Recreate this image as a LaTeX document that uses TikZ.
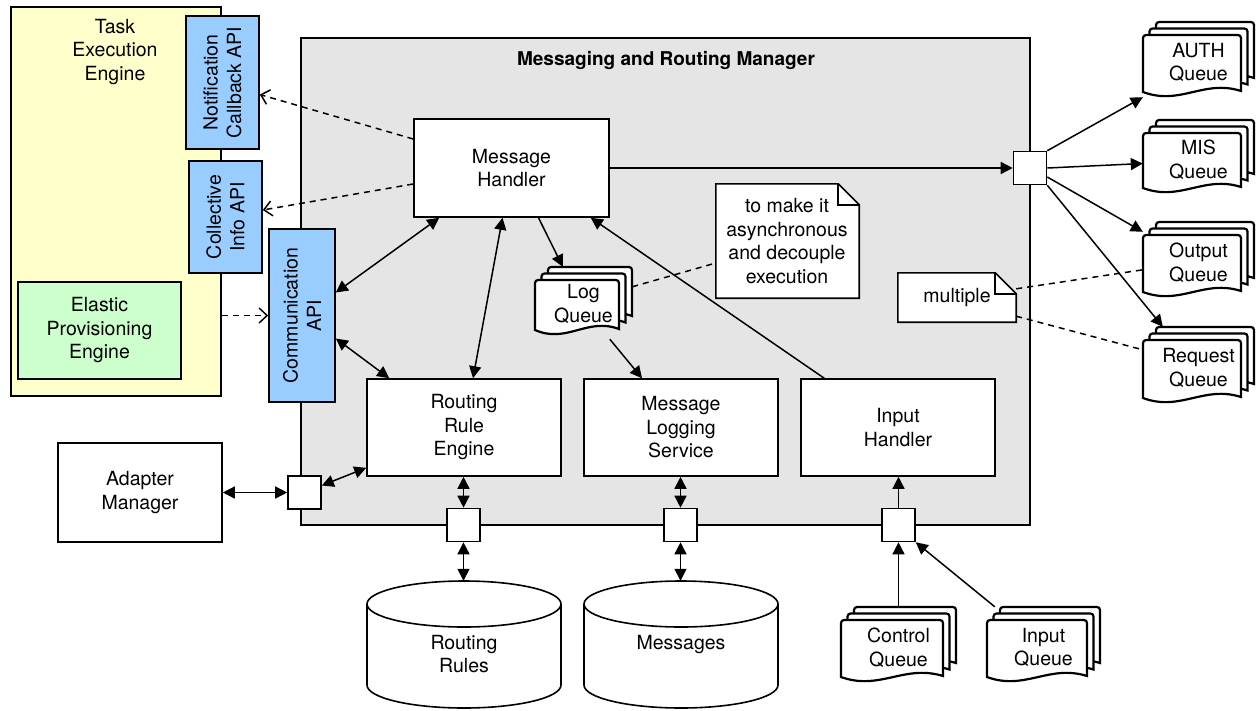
\documentclass[tikz,border=0pt]{standalone}
\usepackage{fontspec}
\setmainfont{TeX Gyre Heros}
\usetikzlibrary{arrows.meta,calc}
\definecolor{mgray}{RGB}{229,229,229}
\definecolor{tyellow}{RGB}{255,255,204}
\definecolor{egreen}{RGB}{204,255,204}
\definecolor{apiblue}{RGB}{153,204,255}

\tikzset{
  every node/.style={font=\fontsize{19.5}{23.5}\selectfont, inner sep=0pt, align=center},
  box/.style={draw, line width=1.6pt, fill=white, rectangle},
  port/.style={box, minimum width=33pt, minimum height=33pt},
  engine/.style={box, minimum width=194pt, minimum height=97pt},
  docline/.style={draw, line width=2.2pt, fill=white},
  conn/.style={line width=1.5pt},
  onehead/.style={conn, -{Triangle[length=12pt,width=12pt]}},
  twohead/.style={conn, {Triangle[length=12pt,width=12pt]}-{Triangle[length=12pt,width=12pt]}},
  dashplain/.style={line width=1.5pt, dash pattern=on 6pt off 5pt},
  dashhead/.style={dashplain, -{Straight Barb[length=8pt,width=15pt]}},
}

% one sheet of a document stack: x, y (top left), width, height
\newcommand\doclayer[4]{%
  \draw[docline] ({#1},{#2+#4-5}) [rounded corners=3pt] -- ({#1},{#2}) -- ({#1+#3},{#2})
    [sharp corners] -- ({#1+#3},{#2+#4-6})
    .. controls ({#1+0.62*#3},{#2+#4-18}) and ({#1+0.38*#3},{#2+#4+9}) .. ({#1},{#2+#4-5}) -- cycle;}

% a stack of three documents: name, x, y (front sheet top left), width, height, text
\newcommand\docstack[6]{%
  \node[minimum width={#4pt+13pt}, minimum height={#5pt+13pt}] (#1) at ({#2+(#4+13)/2},{#3+(#5-13)/2}) {};
  \doclayer{#2+13}{#3-13}{#4}{#5}
  \doclayer{#2+6.5}{#3-6.5}{#4}{#5}
  \doclayer{#2}{#3}{#4}{#5}
  \node (#1-t) at ($(#1)+(0,3)$) {#6};}

% a note with a folded corner: name, x1, y1, x2, y2
\newcommand\notebox[5]{%
  \node[minimum width={#4pt-#2pt}, minimum height={#5pt-#3pt}] (#1) at ({(#2+#4)/2},{(#3+#5)/2}) {};
  \draw[box] (#1.south west) -- (#1.north west) -- ($(#1.north east)+(-21,0)$)
    -- ($(#1.north east)+(0,21)$) -- (#1.south east) -- cycle;
  \draw[line width=1.6pt] ($(#1.north east)+(-21,0)$) -- ($(#1.north east)+(-21,21)$) -- ($(#1.north east)+(0,21)$);}

% a database cylinder: name, x1, x2, top, bottom, text
\newcommand\dbcyl[6]{%
  \node[minimum width={#3pt-#2pt}, minimum height={#5pt-#4pt}] (#1) at ({(#2+#3)/2},{(#4+#5)/2}) {};
  \draw[box] ({#2},{#4+23}) -- ({#2},{#5-23})
    arc[start angle=180, end angle=0, x radius={(#3-#2)/2}, y radius=23]
    -- ({#3},{#4+23})
    arc[start angle=0, end angle=-180, x radius={(#3-#2)/2}, y radius=23] -- cycle;
  \draw[line width=1.6pt] ({#2},{#4+23}) arc[start angle=180, end angle=0, x radius={(#3-#2)/2}, y radius=23];
  \node[anchor=north] (#1-t) at ({(#2+#3)/2},{#4+54}) {#6};}

\begin{document}
\begin{tikzpicture}[x=1pt,y=-1pt]
\useasboundingbox (0,0) rectangle (1257,710);

% task execution engine
\node[box, fill=tyellow, minimum width=210pt, minimum height=389pt] (te) at (116,201.5) {};
\node (te-t) at (115,52) {Task\\Execution\\Engine};
\node[box, fill=egreen, minimum width=163pt, minimum height=97pt] (epe) at (99.5,330.5) {Elastic\\Provisioning\\Engine};

% messaging and routing manager
\node[box, fill=mgray, minimum width=729pt, minimum height=487pt] (mrm) at (665.5,281.5) {};
\node[font=\bfseries\fontsize{19}{22}\selectfont] (mrm-t) at (666,60) {Messaging and Routing Manager};

% API boxes
\node[box, fill=apiblue, minimum width=73pt, minimum height=133pt] (ncb) at (222.5,82.5) {};
\node[rotate=90] (ncb-t) at (ncb) {Notification\\Callback API};
\node[box, fill=apiblue, minimum width=73pt, minimum height=112pt] (cia) at (225.5,217) {};
\node[rotate=90] (cia-t) at (cia) {Collective\\Info API};
\node[box, fill=apiblue, minimum width=66pt, minimum height=173pt] (comm) at (302,315.5) {};
\node[rotate=90] (comm-t) at (comm) {Communication\\API};

% components
\node[box, minimum width=195pt, minimum height=98pt] (mh) at (511.5,168) {Message\\Handler};
\node[engine] (rre) at (464,427.5) {Routing\\Rule\\Engine};
\node[engine] (mls) at (681,427.5) {Message\\Logging\\Service};
\node[engine] (ih) at (898,427.5) {Input\\Handler};
\node[box, minimum width=164pt, minimum height=99pt] (am) at (140,492.5) {Adapter\\Manager};

% ports
\node[port] (ap) at (304.5,492.5) {};
\node[port] (rp) at (463.5,525) {};
\node[port] (mp) at (680.5,525) {};
\node[port] (ip) at (898.5,525) {};
\node[port] (op) at (1030,168) {};

% queues
\docstack{logq}{535}{280}{84}{55}{Log\\Queue}
\docstack{auth}{1143}{35}{98}{62}{AUTH\\Queue}
\docstack{mis}{1143}{133}{98}{60}{MIS\\Queue}
\docstack{outq}{1143}{235}{98}{62}{Output\\Queue}
\docstack{req}{1143}{340}{98}{63}{Request\\Queue}
\docstack{ctrlq}{841}{620}{102}{62}{Control\\Queue}
\docstack{inq}{987}{620}{100}{62}{Input\\Queue}

% notes
\notebox{async}{716}{184}{859}{298}
\node (async-t) at (787,241) {to make it\\asynchronous\\and decouple\\execution};
\notebox{multi}{898}{273}{1016}{322}
\node (multi-t) at (957,298) {multiple};

% databases
\dbcyl{rrdb}{367}{561}{581}{708}{Routing\\Rules}
\dbcyl{msgdb}{584}{778}{581}{708}{Messages}

% dashed links
\draw[dashhead] ($(mh.west)+(0,-29)$) -- ($(ncb.east)+(0,12)$);
\draw[dashhead] ($(mh.west)+(0,16)$) -- ($(cia.east)+(0,-7)$);
\draw[dashhead] (te.east |- comm.west) -- (comm.west);
\draw[dashplain] ($(logq.north east)+(0,20)$) -- ($(async.west)+(0,22)$);
\draw[dashplain] ($(multi.north east)+(0,16)$) -- ($(outq.north west)+(0,48)$);
\draw[dashplain] ($(multi.south east)+(0,-6)$) -- ($(req.north west)+(0,23)$);

% message handler links
\draw[twohead] ($(mh.south west)+(26,0)$) -- ($(comm.east)+(0,-23)$);
\draw[twohead] ($(mh.south)+(-9,0)$) -- ($(rre.north)+(9,0)$);
\draw[onehead] ($(mh.south)+(27,0)$) -- ($(logq.north west)+(28,0)$);
\draw[onehead] ($(ih.north west)+(24,0)$) -- ($(mh.south east)+(-19,0)$);
\draw[twohead] ($(comm.east)+(0,23)$) -- ($(rre.north west)+(23,0)$);
\draw[onehead] ($(logq.south west)+(75,4)$) -- ($(mls.north)+(-39,0)$);
\draw[onehead] (mh.east) -- (op.west);

% outgoing queues
\draw[onehead] (op.north east) -- (auth.south west);
\draw[onehead] (op.east) -- ($(mis.west)+(0,7)$);
\draw[onehead] ($(op.east)+(0,9)$) -- ($(outq.north west)+(0,10)$);
\draw[onehead] (op.south east) -- ($(req.north west)+(20,0)$);

% adapter and storage links
\draw[twohead] (am.east) -- (ap.west);
\draw[twohead] ($(ap.east)+(0,-7)$) -- ($(rre.south west)+(0,-9)$);
\draw[twohead] (rre.south -| rp.north) -- (rp.north);
\draw[twohead] (rp.south) -- (rp.south |- rrdb.north);
\draw[twohead] (mls.south -| mp.north) -- (mp.north);
\draw[twohead] (mp.south) -- (mp.south |- msgdb.north);

% input side
\draw[onehead] (ip.north) -- (ip.north |- ih.south);
\draw[onehead] (ip.south |- ctrlq.north) -- (ip.south);
\draw[onehead] ($(inq.north west)+(8,0)$) -- (ip.south east);
\end{tikzpicture}
\end{document}
